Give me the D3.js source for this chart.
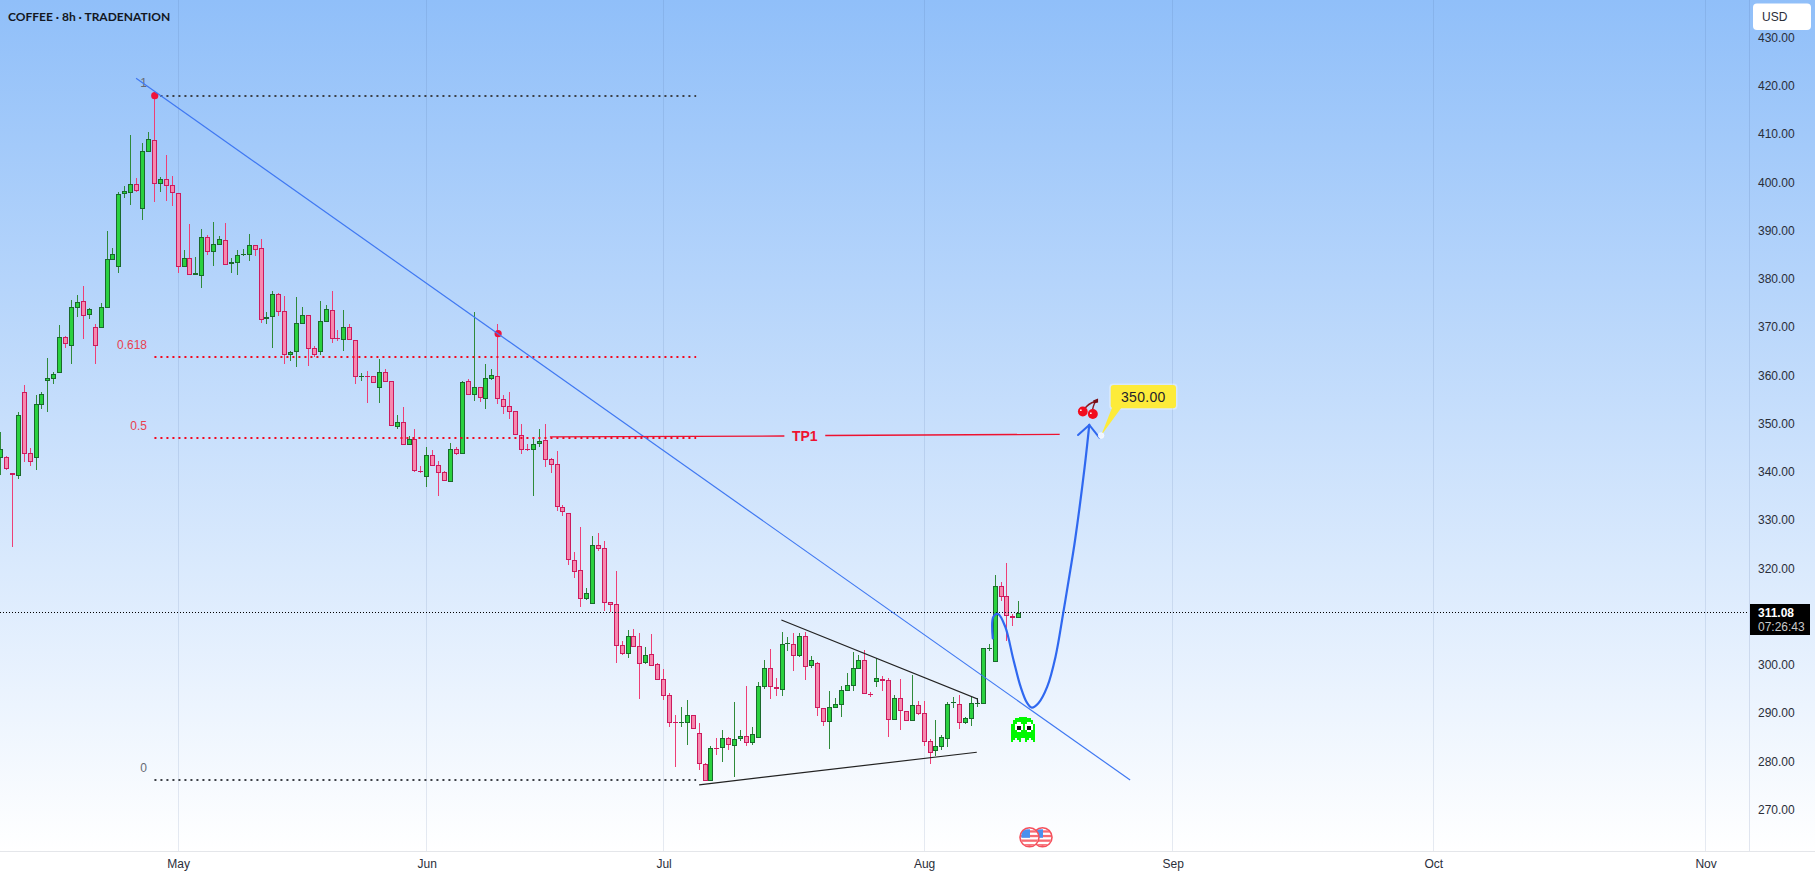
<!DOCTYPE html>
<html>
<head>
<meta charset="utf-8">
<title>COFFEE 8h</title>
<script src="https://cdn.jsdelivr.net/npm/d3@7"></script>
<style>
html,body{margin:0;padding:0;background:#fff;overflow:hidden}
text{font-family:"Liberation Sans",Arial,sans-serif}
</style>
</head>
<body>
<svg id="chart" width="1815" height="879"></svg>
<script>
// OHLC of the 8h coffee contract, one entry per session
const opens = [343.21,343.28,339.96,339.48,356.75,344.11,343.21,354.19,359.17,359.58,360.83,368.15,366.42,374.30,375.61,372.85,370.22,370.15,374.30,384.25,382.80,397.79,398.14,399.86,394.82,406.63,408.98,400.00,400.90,399.66,398.00,382.80,384.53,381.14,380.93,388.88,385.91,387.36,388.26,383.28,383.63,385.36,385.29,387.22,386.60,371.88,372.29,377.06,373.54,364.56,365.04,370.98,372.71,365.87,365.18,371.39,373.74,367.94,367.66,370.22,367.53,360.07,360.07,360.07,357.72,360.89,359.03,349.63,350.53,345.90,347.01,340.52,339.27,343.69,341.62,340.17,338.24,344.94,344.04,359.03,356.27,357.79,355.44,359.58,360.07,355.30,353.85,352.81,347.84,344.94,344.87,345.97,346.80,342.86,341.83,333.06,331.68,321.94,319.87,313.99,312.82,325.05,324.42,313.23,312.82,304.32,302.59,306.19,304.11,300.73,302.46,300.38,297.28,293.96,288.36,288.36,288.30,289.81,286.08,279.66,276.21,282.98,282.98,285.05,283.53,284.84,285.46,284.01,285.05,295.76,299.56,295.62,295.00,304.74,304.53,302.17,306.18,300.10,300.58,291.26,288.50,291.40,292.02,294.92,295.96,299.48,301.21,294.16,296.79,297.27,297.06,288.91,293.33,290.78,288.70,291.88,290.22,284.42,282.49,283.31,284.97,292.50,292.09,288.29,289.12,292.30,292.23,303.69,300.94,316.55,314.48,310.47,310.05];
const highs = [348.53,343.56,340.10,352.67,358.27,345.21,356.13,356.82,363.87,360.89,370.70,368.42,375.89,376.92,378.79,374.23,370.91,375.26,390.19,386.67,398.27,399.52,410.09,401.18,408.36,410.71,418.24,401.38,405.94,401.59,398.00,386.25,391.64,384.80,390.61,389.36,391.99,389.16,391.85,384.53,386.25,386.39,389.57,387.22,388.53,373.33,377.75,377.34,376.71,365.25,376.44,374.37,372.71,366.35,375.61,374.85,377.75,369.67,373.81,370.91,367.53,360.76,361.17,360.07,363.66,361.59,359.03,352.05,353.78,347.70,349.15,341.48,345.42,344.80,342.45,340.45,346.25,345.49,359.10,359.51,373.33,357.79,362.62,361.59,370.84,356.20,356.82,352.81,350.19,346.04,347.36,349.15,350.19,343.14,344.59,333.40,331.68,323.66,328.85,316.20,326.98,327.60,325.94,313.30,319.73,305.22,307.50,307.71,306.88,303.98,306.67,300.66,299.42,294.37,289.88,291.54,292.99,289.81,288.23,280.01,283.39,285.12,286.78,285.26,292.58,286.78,295.89,287.40,296.72,301.28,303.56,297.55,307.09,306.05,306.88,306.80,307.15,302.10,300.86,291.40,294.85,293.40,295.89,298.51,302.93,302.31,303.28,294.57,301.62,297.96,297.48,294.02,297.34,290.78,298.17,292.71,292.78,284.83,288.84,285.73,292.50,293.68,294.02,289.39,293.54,293.33,303.69,304.59,318.90,317.38,321.38,310.81,313.51];
const lows = [339.62,340.65,324.63,338.79,342.31,341.48,340.65,353.30,352.67,358.48,360.83,365.94,362.62,372.36,367.80,371.95,362.62,370.08,374.20,384.18,381.56,397.03,395.58,398.27,392.47,406.63,396.20,398.27,396.41,395.37,381.49,382.80,381.14,381.14,378.38,385.22,382.94,387.36,383.21,381.49,381.07,385.01,383.97,385.01,371.19,370.91,365.94,372.57,362.62,363.24,362.00,370.98,362.21,364.00,364.42,371.33,366.97,367.39,365.32,367.66,358.48,359.10,354.54,358.75,354.54,358.96,349.84,349.15,345.90,345.90,340.24,340.03,337.13,341.55,335.27,338.44,338.24,343.69,344.04,356.27,354.95,354.82,353.30,359.37,354.33,352.26,351.22,347.98,343.97,344.59,335.27,345.49,341.35,340.03,332.16,331.12,321.04,318.28,312.27,313.72,312.82,323.94,311.44,311.23,300.66,302.25,301.70,304.05,293.20,300.45,300.11,297.21,292.99,287.40,279.11,287.40,283.67,287.05,278.49,276.21,276.21,281.59,280.14,282.63,277.04,284.57,283.46,283.67,285.05,295.34,293.20,293.82,293.82,303.22,299.00,301.97,297.13,299.69,289.67,287.60,282.83,291.40,289.46,294.92,294.85,299.41,294.16,293.61,295.68,294.85,285.32,288.84,286.77,288.70,288.70,289.95,283.45,279.72,281.38,282.62,283.25,291.26,286.98,288.01,287.60,291.60,292.23,303.07,300.94,313.51,305.22,308.33,310.05];
const closes = [344.94,340.79,339.55,351.98,344.04,342.38,354.26,356.34,359.65,360.48,368.15,366.84,374.37,375.40,372.64,373.95,366.42,374.37,384.32,385.36,397.79,398.41,399.86,398.55,406.70,409.19,400.00,400.90,399.59,398.14,382.80,384.53,381.14,381.42,388.88,385.91,387.43,388.46,383.21,383.70,385.15,385.36,387.22,386.32,371.81,372.29,377.06,373.47,364.56,365.04,371.05,372.71,365.80,364.42,371.46,373.95,367.87,367.92,370.22,367.66,360.00,360.07,360.05,358.75,360.89,358.96,349.84,350.53,345.90,347.01,340.52,340.50,343.69,341.55,340.10,338.44,344.94,344.04,358.82,356.27,357.79,355.64,359.65,360.27,355.30,353.78,352.74,347.98,344.87,344.92,345.97,346.60,342.80,341.76,333.06,331.88,321.94,319.59,313.99,315.10,325.05,324.36,313.16,312.75,304.25,302.59,306.19,304.05,300.52,302.25,300.11,297.21,293.89,288.30,288.34,288.36,289.81,287.05,279.66,276.21,282.98,282.96,285.05,283.74,284.84,285.46,284.01,285.88,295.83,299.56,295.62,295.20,304.53,304.74,302.04,306.18,299.89,301.21,291.26,288.50,291.47,292.09,294.99,296.03,299.55,301.21,294.30,294.14,297.48,296.99,288.91,293.33,290.78,288.70,291.88,290.15,284.35,282.07,283.38,285.25,292.09,292.50,288.29,289.19,292.30,292.30,303.69,303.69,316.55,314.41,310.47,310.05,311.08];

// Time and price axes; the 310 label gives way to the last price tag
const monthBars = [30, 72, 112, 156, 198, 242, 288];
const monthNames = ["May", "Jun", "Jul", "Aug", "Sep", "Oct", "Nov"];
const priceTicks = [270,280,290,300,320,330,340,350,360,370,380,390,400,410,420,430];
const lastPrice = 311.08;
const clockText = "07:26:43";

// Retracement drawn from the swing high to the swing low
const fibHigh = 418.24, fibLow = 276.32;
const fibRatios = [1, 0.618, 0.5, 0];
const fibSpan = [26, 117.5];

// Drawing tools, as [bar, price]
const downTrend = [[22.9, 421.84], [190.8, 276.4]];
const wedgeUpper = [[131.9, 309.57], [165, 293.19], [165.05, 292.3]];
const wedgeLower = [[118, 275.41], [164.9, 282.15]];
const tpLeft = [[92.8, 347.5], [132.4, 347.7]];
const tpRight = [[139.3, 347.8], [178.9, 348.05]];
const projection = [[167.6,305.77],[167.7,310.25],[168.5,310.81],[169.7,308.18],[171.1,301.28],[172.3,295.74],[173.4,292.37],[174.2,291.39],[175.3,292.30],[176.8,295.74],[178.2,301.96],[179.5,311.02],[180.7,319.93],[181.5,326.15],[183.1,341.07],[183.9,350]];
const arrowHead = [[182, 347.9], [183.9, 350], [185.6, 347.35]];
const pivots = [[26, 418.24], [84, 368.9]];
const target = 350;

const W = 1815, H = 879, paneBottom = 851, axisLeft = 1749;
const svg = d3.select("#chart");

const x = d3.scaleLinear().domain([0, 288]).range([0.5, 1705.6]);
const y = d3.scaleLinear().domain([270, 430]).range([810.9, 38.9]);
const col = i => Math.floor(x(i));

// Sky gradient behind the pane and the price scale
const defs = svg.append("defs");
const grad = defs.append("linearGradient").attr("id", "sky").attr("x1", 0).attr("x2", 0).attr("y1", 0).attr("y2", 1);
grad.append("stop").attr("offset", 0).attr("stop-color", "#90bff9");
grad.append("stop").attr("offset", 1).attr("stop-color", "#ffffff");
svg.append("rect").attr("width", W).attr("height", H).attr("fill", "#fff");
svg.append("rect").attr("width", W).attr("height", paneBottom).attr("fill", "url(#sky)");

// Month grid lines
svg.append("g").selectAll("line").data(monthBars).join("line")
  .attr("x1", d => col(d) + .5).attr("x2", d => col(d) + .5)
  .attr("y1", 0).attr("y2", paneBottom)
  .attr("stroke", "rgba(60,90,150,.13)");

// Candles
const bars = d3.range(opens.length).map(i => ({
  i, o: opens[i], h: highs[i], l: lows[i], c: closes[i], up: closes[i] >= opens[i]
}));
const palette = {
  up: { wick: "#2f8a3a", body: "#2ad13f", edge: "#1a6a2c" },
  down: { wick: "#ee3f76", body: "#f688ae", edge: "#cc1a5e" }
};
const candles = svg.append("g").selectAll("g").data(bars).join("g");
candles.append("line")
  .attr("x1", d => col(d.i) + .5).attr("x2", d => col(d.i) + .5)
  .attr("y1", d => Math.round(y(d.h))).attr("y2", d => Math.round(y(d.l)))
  .attr("stroke", d => (d.up ? palette.up : palette.down).wick);
candles.each(function (d) {
  const g = d3.select(this);
  const top = Math.round(y(Math.max(d.o, d.c)));
  const bottom = Math.round(y(Math.min(d.o, d.c)));
  const pal = d.up ? palette.up : palette.down;
  if (bottom - top <= 1) {
    g.append("rect").attr("x", col(d.i) - 2).attr("y", top).attr("width", 5).attr("height", 1).attr("fill", pal.edge);
  } else {
    g.append("rect").attr("x", col(d.i) - 1.5).attr("y", top + .5)
      .attr("width", 4).attr("height", bottom - top - 1)
      .attr("fill", pal.body).attr("stroke", pal.edge);
  }
});

// Retracement levels
const fibLevel = r => fibLow + r * (fibHigh - fibLow);
const fib = svg.append("g");
fib.selectAll("line").data(fibRatios).join("line")
  .attr("x1", x(fibSpan[0])).attr("x2", x(fibSpan[1]))
  .attr("y1", d => Math.round(y(fibLevel(d)))).attr("y2", d => Math.round(y(fibLevel(d))))
  .attr("stroke", d => (d === 1 || d === 0) ? "#3c4046" : "#f4081f")
  .attr("stroke-width", 2).attr("stroke-dasharray", "2 4");
fib.selectAll("text").data(fibRatios).join("text")
  .attr("x", 147).attr("y", d => y(fibLevel(d)) - 12.5)
  .attr("text-anchor", "end").attr("dominant-baseline", "central")
  .attr("font-size", 12)
  .attr("fill", d => (d === 1 || d === 0) ? "#666a73" : "#e8414f")
  .text(d => d);

// Pivot dots on the high and the lower high
svg.append("g").selectAll("circle").data(pivots).join("circle")
  .attr("cx", d => x(d[0]) + .3).attr("cy", d => y(d[1])).attr("r", 3.6)
  .attr("fill", "#f0143a");

// Last price line
svg.append("line").attr("x1", 0).attr("x2", axisLeft)
  .attr("y1", Math.floor(y(lastPrice)) + .5).attr("y2", Math.floor(y(lastPrice)) + .5)
  .attr("stroke", "#000").attr("stroke-dasharray", "1 2");

// Trend lines and the wedge
const path = d3.line().x(d => x(d[0])).y(d => y(d[1]));
svg.append("path").attr("d", path(downTrend)).attr("fill", "none").attr("stroke", "#3f78f2").attr("stroke-width", 1.2);
svg.append("path").attr("d", path(wedgeUpper)).attr("fill", "none").attr("stroke", "#222").attr("stroke-width", 1.2);
svg.append("path").attr("d", path(wedgeLower)).attr("fill", "none").attr("stroke", "#222").attr("stroke-width", 1.2);

// Target line with its caption
[tpLeft, tpRight].forEach(seg => {
  svg.append("path").attr("d", path(seg)).attr("fill", "none").attr("stroke", "#ee1230").attr("stroke-width", 1.3);
});
svg.append("text").attr("x", (x(tpLeft[1][0]) + x(tpRight[0][0])) / 2).attr("y", y(347.75))
  .attr("text-anchor", "middle").attr("dominant-baseline", "central")
  .attr("font-size", 14).attr("font-weight", 700).attr("fill", "#ee1230").text("TP1");

// Projected path to the target
svg.append("path").attr("d", d3.line().x(d => x(d[0])).y(d => y(d[1])).curve(d3.curveCatmullRom.alpha(.5))(projection))
  .attr("fill", "none").attr("stroke", "#2f68f0").attr("stroke-width", 2.2).attr("stroke-linecap", "round");
svg.append("path").attr("d", path(arrowHead)).attr("fill", "none").attr("stroke", "#2f68f0").attr("stroke-width", 2).attr("stroke-linecap", "round");

// Ghost icon below the trend line
const ghostRows = [
  "....####....",
  "..########..",
  ".##########.",
  ".##WW###WW#.",
  "##WWWW#WWWW#",
  "##WKKW#WKKW#",
  "##WKKW#WKKW#",
  "###WW###WW##",
  "############",
  "############",
  "############",
  "##.##..##.##",
  "#...#..#...#"
];
const ghostFill = { "#": "#00f800", W: "#ffffff", K: "#111111" };
const ghostCells = ghostRows.flatMap((row, r) => row.split("").map((ch, c) => ({ r, c, ch }))).filter(d => d.ch !== ".");
svg.append("g").attr("transform", `translate(${x(172.7) - 12},${y(286.97) - 12.5})`)
  .attr("shape-rendering", "crispEdges")
  .selectAll("rect").data(ghostCells).join("rect")
  .attr("x", d => d.c * 2).attr("y", d => d.r * 1.92).attr("width", 2).attr("height", 2)
  .attr("fill", d => ghostFill[d.ch]);

// Cherry icon above the arrow
const cherry = svg.append("g").attr("transform", `translate(${x(183.7)},${y(353.4)})`);
cherry.append("path").attr("d", "M-4,1 Q0,-5 7,-7 M4,3 Q5,-2 7,-7")
  .attr("fill", "none").attr("stroke", "#8a1a22").attr("stroke-width", 1.4);
cherry.append("path").attr("d", "M5,-8 L10,-10 L10,-6 L6,-5 Z").attr("fill", "#7a0c14");
cherry.append("circle").attr("cx", -5.3).attr("cy", 3).attr("r", 4.9).attr("fill", "#f20d1e");
cherry.append("circle").attr("cx", 4.7).attr("cy", 5.5).attr("r", 5).attr("fill", "#f20d1e");
cherry.append("rect").attr("x", -8).attr("y", 1).attr("width", 1.5).attr("height", 1.5).attr("fill", "#fff");
cherry.append("rect").attr("x", 2).attr("y", 4).attr("width", 1.5).attr("height", 1.5).attr("fill", "#fff");

// Price callout for the target
const tipX = x(185.9), tipY = y(target - 2.2);
const box = { x: 1110.7, y: 385, w: 65.3, h: 23.3 };
const callout = svg.append("g");
callout.append("rect").attr("x", box.x - 1.5).attr("y", box.y - 1.5).attr("width", box.w + 3).attr("height", box.h + 3)
  .attr("rx", 4).attr("fill", "rgba(255,255,255,.35)");
callout.append("path").attr("d", `M${tipX},${tipY} L${box.x + 1.5},${box.y + box.h - 1} L${box.x + 11},${box.y + box.h - 1} Z`).attr("fill", "#fdeb3a");
callout.append("rect").attr("x", box.x).attr("y", box.y).attr("width", box.w).attr("height", box.h).attr("rx", 3).attr("fill", "#fdeb3a");
callout.append("circle").attr("cx", tipX).attr("cy", tipY).attr("r", 2.8).attr("fill", "#eef5ff").attr("stroke", "rgba(255,255,255,.7)");
callout.append("text").attr("x", box.x + box.w / 2).attr("y", box.y + box.h / 2 + .5)
  .attr("text-anchor", "middle").attr("dominant-baseline", "central")
  .attr("font-size", 14).attr("fill", "#1f222b").attr("letter-spacing", ".3").text(d3.format(".2f")(target));

// Economic-event flags on the time scale edge; the earlier flag sits in front
const flagBars = [176, 173.8];
flagBars.forEach((b, idx) => {
  const cx = x(b), cy = 837.3, id = "flag" + idx;
  defs.append("clipPath").attr("id", id).append("circle").attr("cx", cx).attr("cy", cy).attr("r", 8.8);
  const g = svg.append("g");
  g.append("circle").attr("cx", cx).attr("cy", cy).attr("r", 9.5).attr("fill", "#fff").attr("stroke", "#f5505c").attr("stroke-width", 1.6);
  const clip = g.append("g").attr("clip-path", `url(#${id})`);
  d3.range(4).forEach(k => clip.append("rect").attr("x", cx - 10).attr("y", cy - 7 + k * 4.6).attr("width", 20).attr("height", 2.3).attr("fill", "#f76a72"));
  clip.append("rect").attr("x", cx - 8).attr("y", cy - 8).attr("width", 8.5).attr("height", 8.5).attr("fill", "#4a90ee");
});

// Price scale
const priceAxis = d3.axisRight(y).tickValues(priceTicks).tickSize(0).tickFormat(d3.format(".2f"));
const pa = svg.append("g").attr("transform", `translate(${axisLeft + 9},0)`).call(priceAxis);
pa.select(".domain").remove();
pa.selectAll("text").attr("x", 0).attr("dy", "0.2em").attr("font-size", 12).attr("fill", "#2a2e39").style("font-family", '"Liberation Sans",Arial,sans-serif');
svg.append("line").attr("x1", axisLeft + .5).attr("x2", axisLeft + .5).attr("y1", 0).attr("y2", paneBottom)
  .attr("stroke", "rgba(60,90,150,.15)");

// Time scale
svg.append("line").attr("x1", 0).attr("x2", W).attr("y1", paneBottom + .5).attr("y2", paneBottom + .5).attr("stroke", "#e4e6ea");
const timeAxis = d3.axisBottom(x).tickValues(monthBars).tickSize(0).tickFormat((d, i) => monthNames[i]);
const ta = svg.append("g").attr("transform", `translate(0,${paneBottom + 5})`).call(timeAxis);
ta.select(".domain").remove();
ta.selectAll("text").attr("font-size", 12).attr("fill", "#2a2e39").style("font-family", '"Liberation Sans",Arial,sans-serif');

// Last price tag
const tag = svg.append("g");
tag.append("rect").attr("x", 1750).attr("y", 604).attr("width", 60).attr("height", 31).attr("fill", "#000");
tag.append("text").attr("x", 1758).attr("y", 612.5).attr("dominant-baseline", "central")
  .attr("font-size", 12).attr("font-weight", 700).attr("fill", "#fff").text(d3.format(".2f")(lastPrice));
tag.append("text").attr("x", 1758).attr("y", 627).attr("dominant-baseline", "central")
  .attr("font-size", 12).attr("fill", "#c8c8c8").text(clockText);

// Currency button
svg.append("rect").attr("x", 1753).attr("y", 3.5).attr("width", 58).attr("height", 26.5).attr("rx", 4).attr("fill", "#fff");
svg.append("text").attr("x", 1762).attr("y", 17).attr("dominant-baseline", "central").attr("font-size", 12).attr("fill", "#2a2e39").text("USD");

// Symbol title
svg.append("text").attr("x", 8).attr("y", 16.5).attr("dominant-baseline", "central")
  .attr("font-size", 12).attr("font-weight", 700).attr("fill", "#131722").style("font-family", "Lato,sans-serif").text("COFFEE · 8h · TRADENATION");
</script>
</body>
</html>
